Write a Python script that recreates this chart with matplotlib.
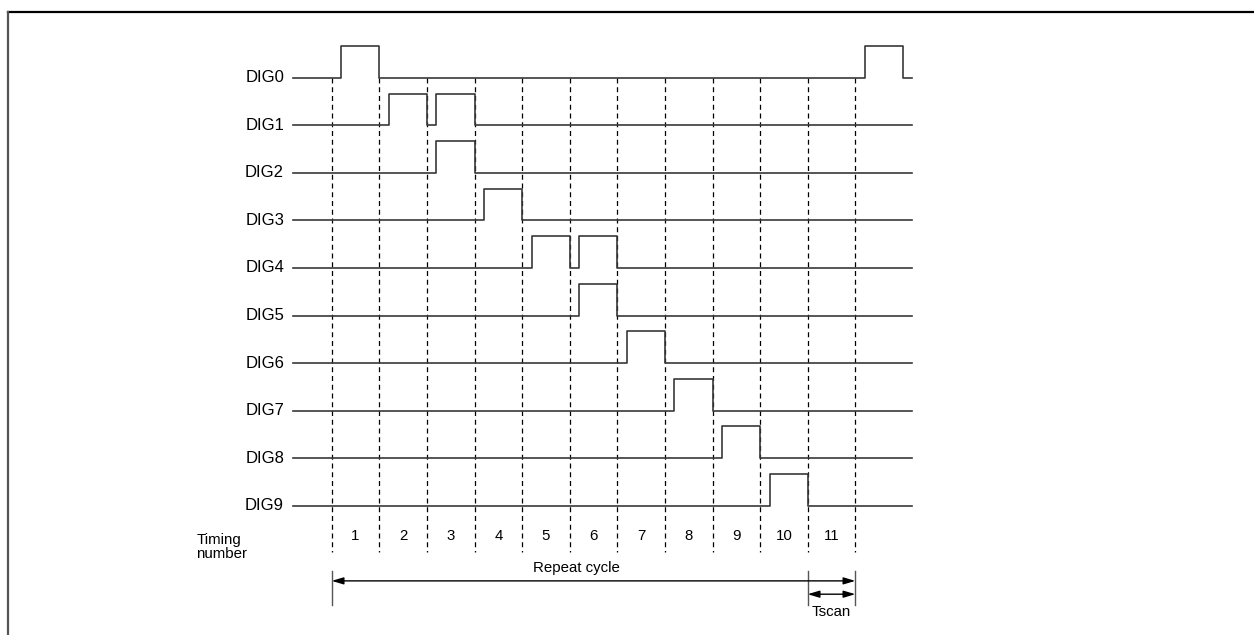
"""plot.py
timing diagram of the digit scan (DIG0..DIG9)
"""
import matplotlib
matplotlib.use('Agg')
import matplotlib.pyplot as plt

plt.rcParams['font.family'] = ['Liberation Sans', 'DejaVu Sans']

# ======= Data ========
signals = ['DIG0', 'DIG1', 'DIG2', 'DIG3', 'DIG4',
           'DIG5', 'DIG6', 'DIG7', 'DIG8', 'DIG9']
# timing slots in which each digit line is high
pulse_slots = [[1, 12], [2, 3], [3], [4], [5, 6], [6], [7], [8], [9], [10]]
timing_numbers = [1, 2, 3, 4, 5, 6, 7, 8, 9, 10, 11]
repeat_label = 'Repeat cycle'
tscan_label = 'Tscan'

rise_delay = 0.2      # pulse starts this far into its slot
pulse_high = 0.667
line_start = -0.81
line_end = 12.2


def waveform(slots, row):
    xs = [line_start]
    ys = [-row]
    for s in slots:
        x0 = s - 1 + rise_delay
        x1 = s
        xs += [x0, x0, x1, x1]
        ys += [-row, -row + pulse_high, -row + pulse_high, -row]
    xs.append(line_end)
    ys.append(-row)
    return xs, ys


def main():
    fig = plt.figure(figsize=(12.54, 6.35), dpi=100)
    ax = fig.add_axes([0, 0, 1, 1])
    ax.set_xlim(-6.969, 19.376)
    ax.set_ylim(-11.718, 1.634)
    ax.axis('off')

    # outer frame (only top and left edges are inside the picture)
    ax.plot([-6.81, 19.5], [1.382, 1.382], color='black', lw=1.6)
    ax.plot([-6.81, -6.81], [1.382, -11.8], color='#555555', lw=1.6)

    # dashed slot boundaries
    for k in range(len(timing_numbers) + 1):
        ax.plot([k, k], [0, -9.97], color='black', lw=0.9,
                linestyle=(0, (4, 3)))

    # waveforms
    for row, (name, slots) in enumerate(zip(signals, pulse_slots)):
        xs, ys = waveform(slots, row)
        ax.plot(xs, ys, color='#383838', lw=1.2)
        ax.text(-1.0, -row, name, ha='right', va='center', fontsize=12)

    # timing numbers
    for n in timing_numbers:
        ax.text(n - 0.5, -9.64, str(n), ha='center', va='center',
                fontsize=10.8)
    ax.text(-2.84, -9.86, 'Timing\nnumber', ha='left', va='center',
            fontsize=10.8, linespacing=1.0)

    # repeat cycle / Tscan arrows
    n_slots = len(timing_numbers)
    arrow = dict(arrowstyle='<|-|>,head_length=0.5,head_width=0.15',
                 mutation_scale=14, color='black', lw=1.0,
                 shrinkA=0, shrinkB=0)
    ax.plot([0, 0], [-10.37, -11.08], color='#555555', lw=1.0)
    ax.plot([n_slots - 1, n_slots - 1], [-10.37, -11.08], color='#555555', lw=1.0)
    ax.plot([n_slots, n_slots], [-10.37, -11.08], color='#555555', lw=1.0)
    ax.annotate('', xy=(n_slots, -10.58), xytext=(0, -10.58), arrowprops=arrow)
    ax.annotate('', xy=(n_slots, -10.86), xytext=(n_slots - 1, -10.86),
                arrowprops=arrow)
    ax.text(5.15, -10.31, repeat_label, ha='center', va='center', fontsize=10.8)
    ax.text(n_slots - 0.5, -11.23, tscan_label, ha='center', va='center',
            fontsize=10.8)

    fig.savefig('out.png', dpi=100)


if __name__ == "__main__":
    main()
